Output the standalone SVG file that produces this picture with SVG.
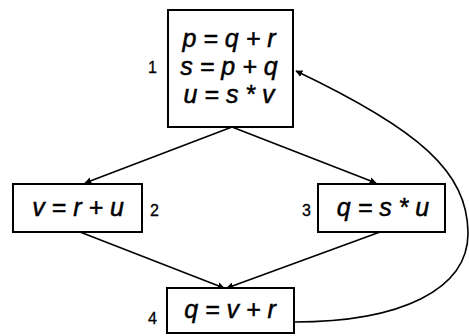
<svg xmlns="http://www.w3.org/2000/svg" width="469" height="336" viewBox="0 0 469 336">
<style>
.box{fill:#fff;stroke:#000;stroke-width:2}
.t{font-family:"Liberation Sans",Arial,sans-serif;font-style:italic;font-size:25px;text-anchor:middle;fill:#000;stroke:#000;stroke-width:0.5}
.n{font-family:"Liberation Sans",Arial,sans-serif;font-size:16px;fill:#000;stroke:#000;stroke-width:0.3}
.e{fill:none;stroke:#000;stroke-width:1.6}
</style>
<defs>
<marker id="ah" viewBox="0 0 10 10" refX="9" refY="5" markerWidth="7" markerHeight="7" markerUnits="userSpaceOnUse" orient="auto">
<path d="M0,0 L10,5 L0,10 z" fill="#000"/>
</marker>
</defs>
<g id="connectors">
<path class="e" d="M232,127 L85,183" marker-end="url(#ah)"/>
<path class="e" d="M232,127 L376,183" marker-end="url(#ah)"/>
<path class="e" d="M80,232 L224,288" marker-end="url(#ah)"/>
<path class="e" d="M380,232 L227,288" marker-end="url(#ah)"/>
<path class="e" d="M294,322 C400,322 469,290 468,232 C467,172 420,130 296,71" marker-end="url(#ah)"/>
</g>
<g id="node1">
<rect class="box" x="168" y="10" width="125" height="117"/>
<text class="t" x="229" y="47">p = q + r</text>
<text class="t" x="229" y="75">s = p + q</text>
<text class="t" x="229" y="103">u = s * v</text>
<text class="n" x="148" y="73">1</text>
</g>
<g id="node2">
<rect class="box" x="13" y="184" width="129" height="48"/>
<text class="t" x="78" y="216">v = r + u</text>
<text class="n" x="150" y="216">2</text>
</g>
<g id="node3">
<rect class="box" x="318" y="184" width="127" height="48"/>
<text class="t" x="383" y="216">q = s * u</text>
<text class="n" x="302" y="216">3</text>
</g>
<g id="node4">
<rect class="box" x="167" y="288" width="127" height="45"/>
<text class="t" x="230" y="318">q = v + r</text>
<text class="n" x="148" y="324">4</text>
</g>
</svg>
